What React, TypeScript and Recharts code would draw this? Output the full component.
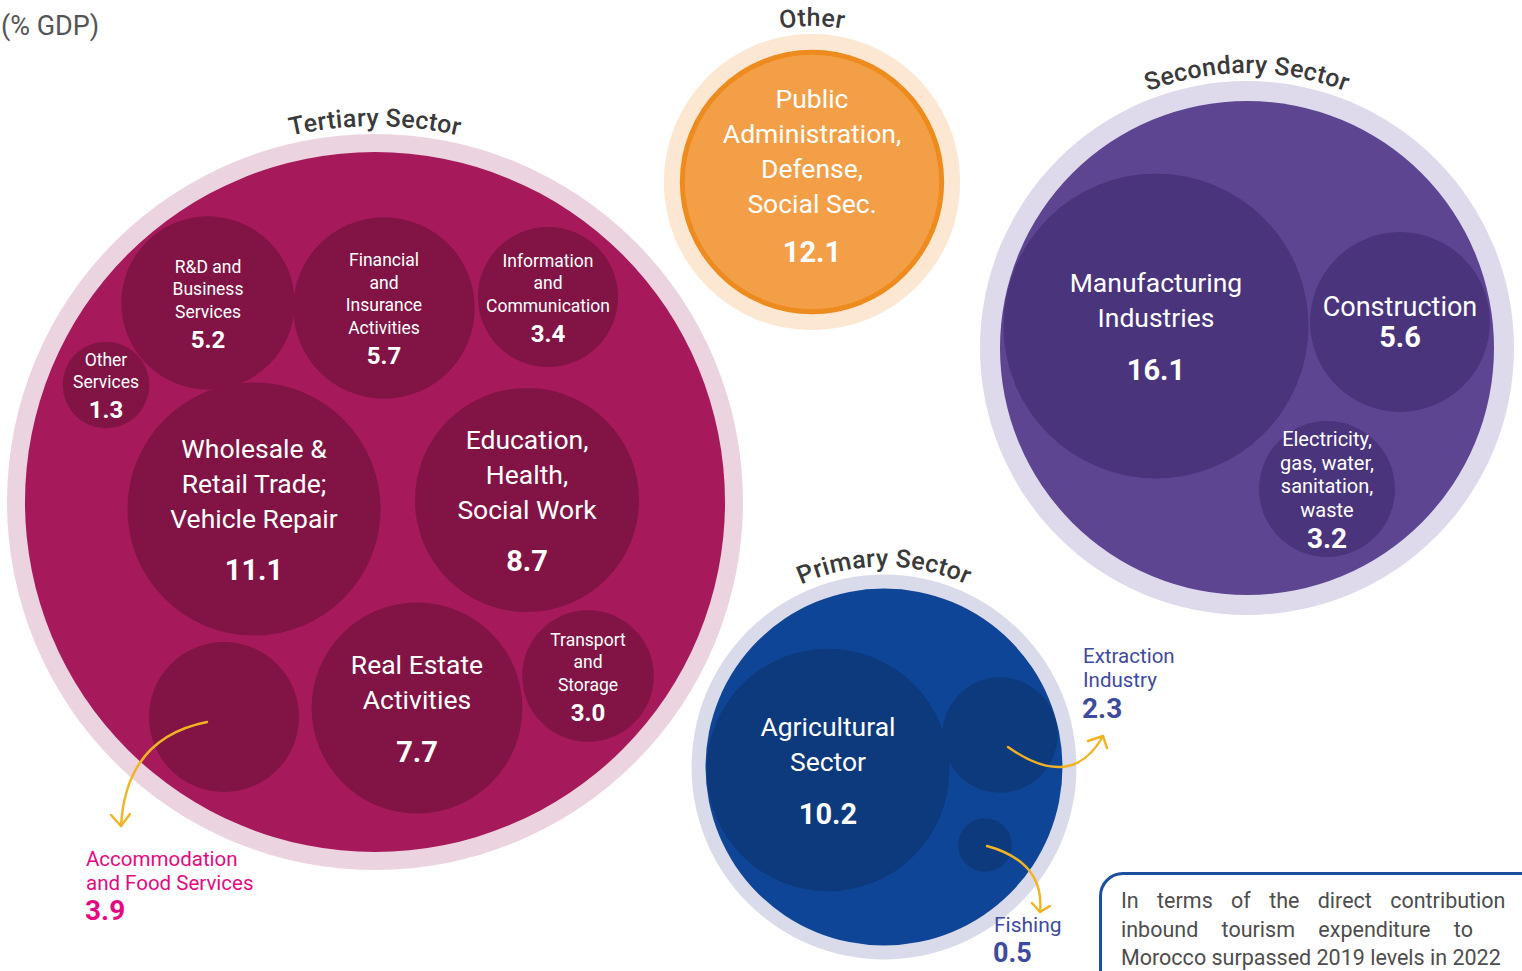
import React from 'react';
import { ScatterChart, Scatter, XAxis, YAxis, ZAxis } from 'recharts';

const W = 1522;
const H = 971;
const FONT = 'Roboto, "Noto Sans", "DejaVu Sans", sans-serif';

// ---------------- data ----------------
const sectorNames = ['Tertiary Sector', 'Secondary Sector', 'Primary Sector', 'Other'];

const categories = [
  'R&D and Business Services',
  'Financial and Insurance Activities',
  'Information and Communication',
  'Other Services',
  'Wholesale & Retail Trade; Vehicle Repair',
  'Education, Health, Social Work',
  'Real Estate Activities',
  'Transport and Storage',
  'Accommodation and Food Services',
  'Manufacturing Industries',
  'Construction',
  'Electricity, gas, water, sanitation, waste',
  'Agricultural Sector',
  'Extraction Industry',
  'Fishing',
  'Public Administration, Defense, Social Sec.',
];

const categorySector = [
  'Tertiary Sector', 'Tertiary Sector', 'Tertiary Sector', 'Tertiary Sector', 'Tertiary Sector',
  'Tertiary Sector', 'Tertiary Sector', 'Tertiary Sector', 'Tertiary Sector',
  'Secondary Sector', 'Secondary Sector', 'Secondary Sector',
  'Primary Sector', 'Primary Sector', 'Primary Sector',
  'Other',
];

// % of GDP
const values = [5.2, 5.7, 3.4, 1.3, 11.1, 8.7, 7.7, 3.0, 3.9, 16.1, 5.6, 3.2, 10.2, 2.3, 0.5, 12.1];

const labelLines = [
  ['R&D and', 'Business', 'Services'],
  ['Financial', 'and', 'Insurance', 'Activities'],
  ['Information', 'and', 'Communication'],
  ['Other', 'Services'],
  ['Wholesale &', 'Retail Trade;', 'Vehicle Repair'],
  ['Education,', 'Health,', 'Social Work'],
  ['Real Estate', 'Activities'],
  ['Transport', 'and', 'Storage'],
  ['Accommodation', 'and Food Services'],
  ['Manufacturing', 'Industries'],
  ['Construction'],
  ['Electricity,', 'gas, water,', 'sanitation,', 'waste'],
  ['Agricultural', 'Sector'],
  ['Extraction', 'Industry'],
  ['Fishing'],
  ['Public', 'Administration,', 'Defense,', 'Social Sec.'],
];

const unitLabel = '(% GDP)';
const noteLines = [
  'In terms of the direct contribution',
  'inbound tourism expenditure to',
  'Morocco surpassed 2019 levels in 2022',
];

// ---------------- layout (packing positions, plot units) ----------------
const sectorCenters: Record<string, [number, number]> = {
  'Tertiary Sector': [375, 502],
  'Secondary Sector': [1247, 348],
  'Primary Sector': [884, 767],
};

const bubbleCenters: Record<string, [number, number]> = {
  'R&D and Business Services': [208, 303],
  'Financial and Insurance Activities': [384, 308],
  'Information and Communication': [548, 297],
  'Other Services': [106, 385],
  'Wholesale & Retail Trade; Vehicle Repair': [254, 509],
  'Education, Health, Social Work': [527, 500],
  'Real Estate Activities': [417, 708],
  'Transport and Storage': [588, 676],
  'Accommodation and Food Services': [224, 717],
  'Manufacturing Industries': [1156, 326],
  'Construction': [1400, 322],
  'Electricity, gas, water, sanitation, waste': [1327, 489],
  'Agricultural Sector': [828, 770],
  'Extraction Industry': [1000, 735],
  'Fishing': [985, 845],
  'Public Administration, Defense, Social Sec.': [812, 182],
};

// ---------------- styles ----------------
const K_CHILD = 38; // radius per sqrt(% GDP)
const K_SECTOR = 49.5;

const sectorStyle: Record<string, any> = {
  'Tertiary Sector': { ring: 18, ringColor: '#ECD3E0', fill: '#A61A5B', child: '#811445' },
  'Secondary Sector': { ring: 20, ringColor: '#DEDAEB', fill: '#5E4592', child: '#4A347C' },
  'Primary Sector': { ring: 14, ringColor: '#D9DBEB', fill: '#0F4596', child: '#0D3A7C' },
  'Other': { ring: 16, ringColor: '#FCE7D2', fill: '#F29F48', stroke: '#EE8B1E', strokeWidth: 5 },
};

const textClasses: Record<string, any> = {
  xl: { fs: 26.5, lh: 35, vfs: 29, gap: 52, dy: 0 },
  xlTop: { fs: 26.5, lh: 35, vfs: 29, gap: 48, dy: -7 },
  md: { fs: 27, lh: 35, vfs: 29, gap: 30, dy: 0 },
  smmd: { fs: 20, lh: 23.5, vfs: 28, gap: 29, dy: 0 },
  sm: { fs: 17.5, lh: 22.5, vfs: 24, gap: 28, dy: 0 },
};

const textClassOf: Record<string, string> = {
  'R&D and Business Services': 'sm',
  'Financial and Insurance Activities': 'sm',
  'Information and Communication': 'sm',
  'Other Services': 'sm',
  'Transport and Storage': 'sm',
  'Wholesale & Retail Trade; Vehicle Repair': 'xl',
  'Education, Health, Social Work': 'xl',
  'Real Estate Activities': 'xl',
  'Manufacturing Industries': 'xl',
  'Agricultural Sector': 'xl',
  'Public Administration, Defense, Social Sec.': 'xlTop',
  'Construction': 'md',
  'Electricity, gas, water, sanitation, waste': 'smmd',
};

const ARROW = '#F0B323';
const externalLabels: Record<string, any> = {
  'Accommodation and Food Services': {
    color: '#E5097F', at: [86, 859], lh: 23.5, fs: 20.5, vfs: 28, gap: 51,
    from: [-17, 5], ctrl: [126, 738], tip: [121, 826], head: [[111, 815], [130, 814]],
  },
  'Extraction Industry': {
    color: '#3D4A9E', at: [1083, 656], lh: 23.5, fs: 20.5, vfs: 28, gap: 52,
    from: [8, 12], ctrl: [1072, 792], tip: [1103, 736], head: [[1088, 741], [1107, 748]],
  },
  'Fishing': {
    color: '#3D4A9E', at: [994, 925], lh: 23.5, fs: 21, vfs: 27, gap: 28,
    from: [2, 1], ctrl: [1045, 862], tip: [1040, 912], head: [[1032, 903], [1050, 906]],
  },
};

// ---------------- derived chart tables ----------------
const childCount = (s: string) => categorySector.filter((c) => c === s).length;

const childData = categories.map((name, i) => ({
  name,
  sector: categorySector[i],
  value: values[i],
  lines: labelLines[i],
  x: bubbleCenters[name][0],
  y: bubbleCenters[name][1],
}));

const sectorData = sectorNames
  .filter((s) => childCount(s) > 1)
  .map((s, i) => ({
    name: s,
    idx: i,
    value: values.reduce((acc, v, j) => (categorySector[j] === s ? acc + v : acc), 0),
    x: sectorCenters[s][0],
    y: sectorCenters[s][1],
  }));

// ---------------- shapes ----------------
function ArcTitle({ id, cx, cy, R, text }: any) {
  return (
    <g>
      <path id={id} d={`M ${cx - R} ${cy} A ${R} ${R} 0 0 1 ${cx + R} ${cy}`} fill="none" />
      <text fontFamily={FONT} fontSize={25} fontWeight={500} fill="#3A3A3A" letterSpacing={0.3}>
        <textPath href={`#${id}`} startOffset="50%" textAnchor="middle">
          {text}
        </textPath>
      </text>
    </g>
  );
}

function SectorShape(props: any) {
  const { cx, cy, width, payload } = props;
  if (cx == null || cy == null) return null;
  const r = width / 2;
  const st = sectorStyle[payload.name];
  const ringR = r + st.ring;
  return (
    <g>
      <circle cx={cx} cy={cy} r={ringR} fill={st.ringColor} />
      <circle cx={cx} cy={cy} r={r} fill={st.fill} />
      <ArcTitle id={`sector-arc-${payload.idx}`} cx={cx} cy={cy} R={ringR + 8} text={payload.name} />
    </g>
  );
}

function ChildShape(props: any) {
  const { cx, cy, width, payload } = props;
  if (cx == null || cy == null) return null;
  const r = width / 2;
  const st = sectorStyle[payload.sector];
  const single = childCount(payload.sector) === 1;
  const ext = externalLabels[payload.name];
  const els: any[] = [];

  if (single) {
    els.push(<circle key="ring" cx={cx} cy={cy} r={r + st.ring} fill={st.ringColor} />);
    els.push(
      <circle
        key="main"
        cx={cx}
        cy={cy}
        r={r - (st.strokeWidth || 0) / 2}
        fill={st.fill}
        stroke={st.stroke}
        strokeWidth={st.strokeWidth}
      />
    );
    els.push(
      <ArcTitle key="title" id={`single-arc-${payload.sector}`} cx={cx} cy={cy} R={r + st.ring + 8} text={payload.sector} />
    );
  } else {
    els.push(<circle key="main" cx={cx} cy={cy} r={r} fill={st.child} />);
  }

  const valueText = payload.value.toFixed(1);

  if (ext) {
    const sx = cx + ext.from[0];
    const sy = cy + ext.from[1];
    els.push(
      <path
        key="arrow"
        d={`M ${sx} ${sy} Q ${ext.ctrl[0]} ${ext.ctrl[1]} ${ext.tip[0]} ${ext.tip[1]}`}
        fill="none"
        stroke={ARROW}
        strokeWidth={2.4}
        strokeLinecap="round"
      />
    );
    els.push(
      <polyline
        key="head"
        points={`${ext.head[0][0]},${ext.head[0][1]} ${ext.tip[0]},${ext.tip[1]} ${ext.head[1][0]},${ext.head[1][1]}`}
        fill="none"
        stroke={ARROW}
        strokeWidth={2.4}
        strokeLinecap="round"
        strokeLinejoin="round"
      />
    );
    const lines: string[] = payload.lines;
    lines.forEach((l, k) => {
      els.push(
        <text
          key={`el${k}`}
          x={ext.at[0]}
          y={ext.at[1] + k * ext.lh}
          dominantBaseline="central"
          fontFamily={FONT}
          fontSize={ext.fs}
          fill={ext.color}
        >
          {l}
        </text>
      );
    });
    els.push(
      <text
        key="ev"
        x={ext.at[0] - 1}
        y={ext.at[1] + ext.gap}
        dominantBaseline="central"
        fontFamily={FONT}
        fontSize={ext.vfs}
        fontWeight={700}
        fill={ext.color}
      >
        {valueText}
      </text>
    );
  } else {
    const tc = textClasses[textClassOf[payload.name]];
    const lines: string[] = payload.lines;
    const n = lines.length;
    const total = (n - 1) * tc.lh + tc.gap;
    const y0 = cy - total / 2 + tc.dy;
    lines.forEach((l, k) => {
      els.push(
        <text
          key={`l${k}`}
          x={cx}
          y={y0 + k * tc.lh}
          textAnchor="middle"
          dominantBaseline="central"
          fontFamily={FONT}
          fontSize={tc.fs}
          fill="#FFFFFF"
        >
          {l}
        </text>
      );
    });
    els.push(
      <text
        key="v"
        x={cx}
        y={y0 + total}
        textAnchor="middle"
        dominantBaseline="central"
        fontFamily={FONT}
        fontSize={tc.vfs}
        fontWeight={700}
        fill="#FFFFFF"
      >
        {valueText}
      </text>
    );
  }
  return <g>{els}</g>;
}

// ---------------- app ----------------
export default function App() {
  return (
    <div style={{ position: 'relative', width: W, height: H, overflow: 'hidden', background: '#FFFFFF' }}>
      <style>{'body{margin:0;}'}</style>
      <ScatterChart width={W} height={H} margin={{ top: 0, right: 0, bottom: 0, left: 0 }}>
        <XAxis type="number" dataKey="x" domain={[0, W]} hide />
        <YAxis type="number" dataKey="y" domain={[0, H]} reversed hide />
        <ZAxis zAxisId="sector" type="number" dataKey="value" domain={[0, 100]} range={[0, Math.PI * K_SECTOR * K_SECTOR * 100]} />
        <ZAxis zAxisId="child" type="number" dataKey="value" domain={[0, 100]} range={[0, Math.PI * K_CHILD * K_CHILD * 100]} />
        <Scatter data={sectorData} zAxisId="sector" shape={SectorShape} isAnimationActive={false} />
        <Scatter data={childData} zAxisId="child" shape={ChildShape} isAnimationActive={false} />
      </ScatterChart>

      <div
        style={{
          position: 'absolute',
          left: 1,
          top: 9,
          fontFamily: FONT,
          fontSize: 27,
          color: '#555555',
          lineHeight: '34px',
          whiteSpace: 'nowrap',
        }}
      >
        {unitLabel}
      </div>

      <div
        style={{
          position: 'absolute',
          left: 1099,
          top: 872,
          width: 520,
          height: 160,
          boxSizing: 'border-box',
          border: '3px solid #1D4F9F',
          borderRadius: 24,
          background: '#FFFFFF',
        }}
      >
        {noteLines.map((t, i) => (
          <div
            key={i}
            style={{
              position: 'absolute',
              left: 19,
              top: 12 + i * 28.5,
              fontFamily: FONT,
              fontSize: 21.5,
              lineHeight: '28px',
              color: '#4D4D4D',
              whiteSpace: 'nowrap',
              wordSpacing: i === 0 ? 13 : i === 1 ? 18 : 0,
            }}
          >
            {t}
          </div>
        ))}
      </div>
    </div>
  );
}
